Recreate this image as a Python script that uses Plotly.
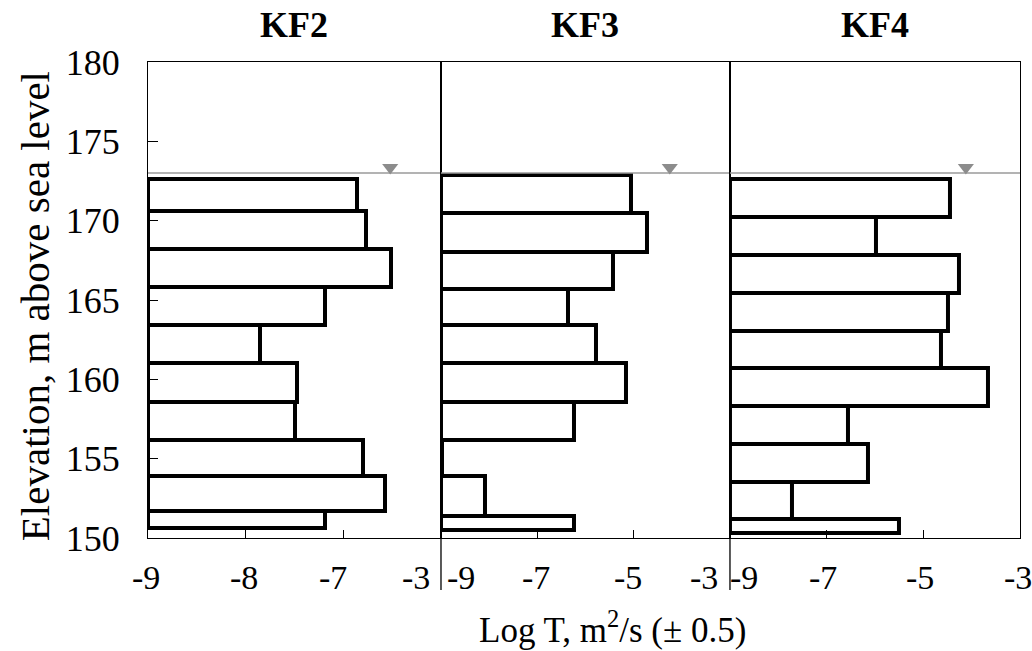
import plotly.graph_objects as go

# ---------------- data ----------------
panels = ["KF2", "KF3", "KF4"]

# layer boundaries (elevation, m a.s.l.), top to bottom
kf2_edges = [172.6, 170.6, 168.2, 165.8, 163.4, 161.0, 158.6, 156.2, 153.9, 151.7, 150.6]
kf3_edges = [172.9, 170.5, 168.0, 165.7, 163.4, 161.0, 158.6, 156.2, 153.9, 151.4, 150.5]
kf4_edges = [172.6, 170.25, 167.84, 165.46, 163.07, 160.7, 158.3, 155.9, 153.55, 151.2, 150.3]

# log T (m2/s) of each layer, top to bottom
kf2_logT = [-6.86, -6.77, -6.51, -7.19, -7.85, -7.47, -7.50, -6.80, -6.57, -7.19]
kf3_logT = [-5.06, -4.72, -5.42, -6.36, -5.79, -5.16, -6.23, -8.97, -8.09, -6.23]
kf4_logT = [-4.45, -5.98, -4.26, -4.50, -4.63, -3.66, -6.56, -6.14, -7.72, -5.50]

# water level and marker positions
water_level = 173.0
marker_elev = 173.35
marker_logT = [-6.52, -4.25, -4.12]

# axes
x_ranges = [[-9, -6], [-9, -3], [-9, -3]]
x_tickvals = [[-9, -8, -7, -6], [-9, -7, -5, -3], [-9, -7, -5, -3]]
x_ticktext = [["-9", "-8", "-7", "-3"], ["-9", "-7", "-5", "-3"], ["-9", "-7", "-5", "-3"]]
y_range = [150, 180]
y_tickvals = [150, 155, 160, 165, 170, 175, 180]

# ---------------- style ----------------
FONT = "Liberation Serif, Times New Roman, serif"
domains = [[0.0, 0.336], [0.336, 0.6674], [0.6674, 1.0]]
label_shift = [[-2, -2, -10, -25], [20, -1, -6, -26], [14, -4, -3, -2]]

edges_all = [kf2_edges, kf3_edges, kf4_edges]
logT_all = [kf2_logT, kf3_logT, kf4_logT]

fig = go.Figure()

for i, (edges, vals) in enumerate(zip(edges_all, logT_all)):
    xa = "x" if i == 0 else f"x{i+1}"
    ya = "y" if i == 0 else f"y{i+1}"
    mids = [(edges[k] + edges[k + 1]) / 2 for k in range(len(vals))]
    widths = [edges[k] - edges[k + 1] for k in range(len(vals))]
    base = x_ranges[i][0]
    fig.add_trace(go.Bar(
        orientation="h", y=mids, x=[v - base for v in vals], base=base,
        width=widths, marker=dict(color="white", line=dict(color="black", width=4)),
        xaxis=xa, yaxis=ya, showlegend=False, hoverinfo="skip"))
    # water level line
    fig.add_trace(go.Scatter(
        x=x_ranges[i], y=[water_level, water_level], mode="lines",
        line=dict(color="#9a9a9a", width=1.5), xaxis=xa, yaxis=ya,
        showlegend=False, hoverinfo="skip", cliponaxis=False))
    # water level marker
    fig.add_trace(go.Scatter(
        x=[marker_logT[i]], y=[marker_elev], mode="markers",
        marker=dict(symbol="triangle-down", size=14, color="#8c8c8c"),
        xaxis=xa, yaxis=ya, showlegend=False, hoverinfo="skip"))

layout = dict(
    width=1032, height=651,
    margin=dict(l=148, r=12, t=62, b=113),
    paper_bgcolor="white", plot_bgcolor="white",
    font=dict(family=FONT, size=34, color="black"),
    bargap=0,
)

for i in range(3):
    xk = "xaxis" if i == 0 else f"xaxis{i+1}"
    yk = "yaxis" if i == 0 else f"yaxis{i+1}"
    layout[xk] = dict(
        domain=domains[i], range=x_ranges[i], anchor="y" if i == 0 else f"y{i+1}",
        tickvals=x_tickvals[i], showticklabels=False, ticks="inside", ticklen=8,
        tickcolor="black", tickwidth=1.2,
        showline=True, linecolor="black", linewidth=1.3, mirror=True,
        showgrid=False, zeroline=False, fixedrange=True)
    layout[yk] = dict(
        range=y_range, anchor="x" if i == 0 else f"x{i+1}",
        tickvals=y_tickvals, showticklabels=(i == 0),
        ticks="inside" if i == 0 else "", ticklen=10, tickcolor="black", tickwidth=1.2,
        ticklabelstandoff=20,
        showline=True, linecolor="black", linewidth=1.3, mirror=True,
        showgrid=False, zeroline=False, fixedrange=True,
        tickfont=dict(size=36))
    if i > 0:
        layout[yk]["matches"] = "y"

fig.update_layout(**layout)

annotations = []
# panel titles
for i, name in enumerate(panels):
    annotations.append(dict(
        text=f"<b>{name}</b>", xref="paper", yref="paper",
        x=(domains[i][0] + domains[i][1]) / 2, y=1.078,
        xanchor="center", yanchor="middle", showarrow=False,
        font=dict(size=36, family=FONT)))
# x tick labels
for i in range(3):
    xa = "x" if i == 0 else f"x{i+1}"
    for v, t, s in zip(x_tickvals[i], x_ticktext[i], label_shift[i]):
        annotations.append(dict(
            text=t, xref=xa, yref="paper", x=v, y=-0.084, xshift=s,
            xanchor="center", yanchor="middle", showarrow=False,
            font=dict(size=34, family=FONT)))
# axis titles
annotations.append(dict(
    text="Log T, m<sup>2</sup>/s (± 0.5)", xref="paper", yref="paper",
    x=0.533, y=-0.189, xanchor="center", yanchor="middle", showarrow=False,
    font=dict(size=35, family=FONT)))
annotations.append(dict(
    text="Elevation, m above sea level", xref="paper", yref="paper",
    x=-0.1296, y=0.487, xanchor="center", yanchor="middle", showarrow=False,
    textangle=-90, font=dict(size=41, family=FONT)))

fig.update_layout(annotations=annotations)

# panel dividers extending below the plot
shapes = []
for d in [domains[1][0], domains[2][0]]:
    shapes.append(dict(type="line", xref="paper", yref="paper",
                       x0=d, x1=d, y0=-0.109, y1=0,
                       line=dict(color="black", width=1.3)))
fig.update_layout(shapes=shapes)

fig.write_html("out.html", config={"displayModeBar": False},
               post_script="document.body.style.margin='0';document.body.style.overflow='hidden';")
